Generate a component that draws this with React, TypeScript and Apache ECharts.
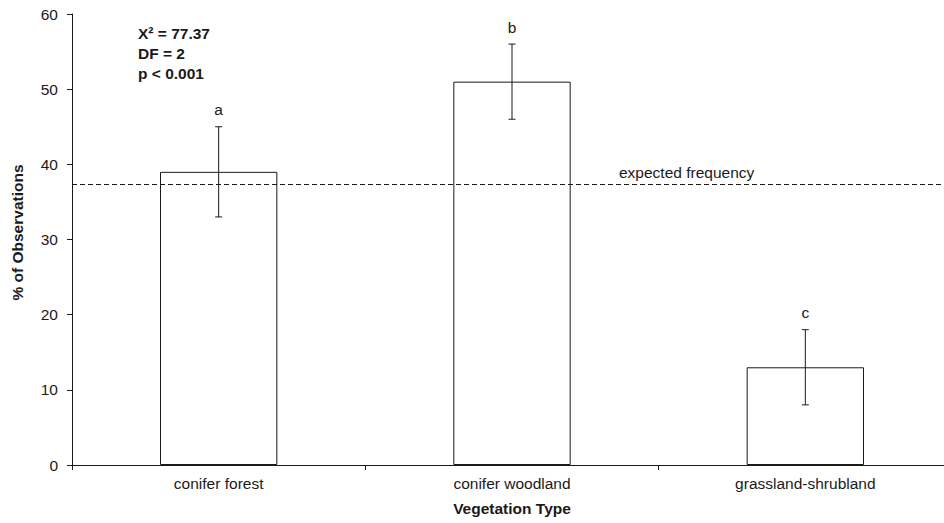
import React, { useEffect, useRef } from "react";
import * as echarts from "echarts";

const categories = ["conifer forest", "conifer woodland", "grassland-shrubland"];
const percentObs = [39, 51, 13];
const errLow = [33, 46, 8];
const errHigh = [45, 56, 18];
const groupLetters = ["a", "b", "c"];
const expectedFrequency = 37.37;
const statLines = ["X\u00b2 = 77.37", "DF = 2", "p < 0.001"];
const yTicks = { min: 0, max: 60, interval: 10 };

const FONT = "'Liberation Sans', Arial, Helvetica, sans-serif";
const INK = "#1a1a1a";
const FS = 15.5;

export default function App() {
  const ref = useRef<HTMLDivElement>(null);
  useEffect(() => {
    if (!ref.current) return;
    const chart = echarts.init(ref.current, undefined, { renderer: "svg" });
    const errData = categories.map((_, i) => [i, errLow[i], errHigh[i]]);
    chart.setOption({
      animation: false,
      backgroundColor: "#fff",
      textStyle: { fontFamily: FONT },
      grid: { left: 72, top: 14, right: 0, height: 451, containLabel: false },
      xAxis: {
        type: "category",
        data: categories,
        name: "Vegetation Type",
        nameLocation: "middle",
        nameGap: 35,
        nameTextStyle: { fontFamily: FONT, fontSize: FS, fontWeight: "bold", color: INK },
        axisLine: { lineStyle: { color: INK, width: 1 } },
        axisTick: { show: true, length: 5, inside: false, lineStyle: { color: INK } },
        axisLabel: { fontFamily: FONT, fontSize: FS, color: INK, margin: 10 },
        splitLine: { show: false },
      },
      yAxis: {
        type: "value",
        min: yTicks.min,
        max: yTicks.max,
        interval: yTicks.interval,
        name: "% of Observations",
        nameLocation: "middle",
        nameGap: 47,
        nameRotate: 90,
        nameTextStyle: { fontFamily: FONT, fontSize: FS, fontWeight: "bold", color: INK, padding: [0, 0, 0, 14] },
        axisLine: { show: true, lineStyle: { color: INK, width: 1 } },
        axisTick: { show: true, length: 5, inside: false, lineStyle: { color: INK } },
        axisLabel: { fontFamily: FONT, fontSize: FS, color: INK, margin: 14 },
        splitLine: { show: false },
      },
      series: [
        {
          type: "bar",
          data: percentObs,
          barWidth: "40%",
          itemStyle: { color: "#fff", borderColor: INK, borderWidth: 1 },
          markLine: {
            symbol: "none",
            silent: true,
            lineStyle: { color: INK, type: [5, 3], width: 1 },
            label: { show: false },
            data: [{ yAxis: expectedFrequency }],
          },
        },
        {
          type: "custom",
          data: errData,
          z: 5,
          renderItem: (params: any, api: any) => {
            const i = api.value(0);
            const top = api.coord([i, api.value(2)]);
            const bot = api.coord([i, api.value(1)]);
            const w = 3.5;
            const st = { stroke: INK, lineWidth: 1 };
            return {
              type: "group",
              children: [
                { type: "line", shape: { x1: top[0], y1: top[1], x2: bot[0], y2: bot[1] }, style: st },
                { type: "line", shape: { x1: top[0] - w, y1: top[1], x2: top[0] + w, y2: top[1] }, style: st },
                { type: "line", shape: { x1: bot[0] - w, y1: bot[1], x2: bot[0] + w, y2: bot[1] }, style: st },
                {
                  type: "text",
                  style: {
                    text: groupLetters[params.dataIndex],
                    x: top[0],
                    y: top[1] - 17,
                    align: "center",
                    verticalAlign: "middle",
                    fontFamily: FONT,
                    fontSize: FS,
                    fill: INK,
                  },
                },
              ],
            };
          },
        },
      ],
      graphic: [
        ...statLines.map((t, k) => ({
          type: "text",
          left: 138,
          top: 25 + k * 20,
          style: { text: t, fontFamily: FONT, fontSize: FS, fontWeight: "bold", fill: INK },
        })),
        {
          type: "text",
          left: 619,
          top: 164,
          style: { text: "expected frequency", fontFamily: FONT, fontSize: FS, fill: INK },
        },
      ],
    });
    return () => chart.dispose();
  }, []);
  return (
    <div
      style={{ position: "fixed", left: 0, top: 0, width: 944, height: 523, overflow: "hidden", background: "#fff" }}
    >
      <div ref={ref} style={{ width: 952, height: 523 }} />
    </div>
  );
}
